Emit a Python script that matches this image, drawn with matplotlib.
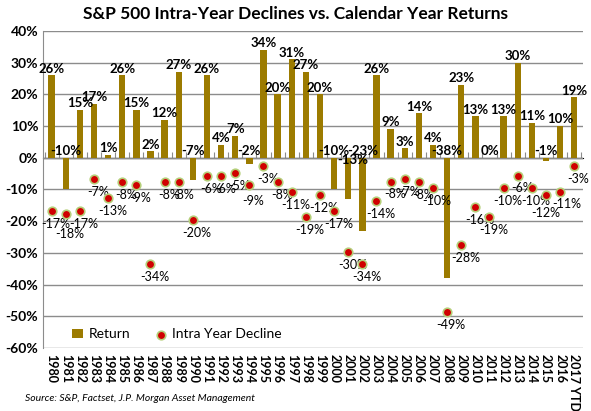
import numpy as np
import matplotlib.pyplot as plt
from matplotlib.ticker import FuncFormatter

plt.rcParams['font.family'] = ['Lato', 'DejaVu Sans']

years = [str(y) for y in range(1980, 2017)] + ['2017 YTD']
returns = [26, -10, 15, 17, 1, 26, 15, 2, 12, 27, -7, 26, 4, 7, -2, 34, 20, 31, 27, 20,
           -10, -13, -23, 26, 9, 3, 14, 4, -38, 23, 13, 0, 13, 30, 11, -1, 10, 19]
declines = [-16.8, -17.8, -16.8, -6.6, -12.7, -7.7, -8.6, -33.5, -7.7, -7.7, -19.7, -5.7,
            -5.7, -4.7, -8.6, -2.6, -7.6, -10.8, -18.6, -11.7, -16.8, -29.7, -33.5, -13.7,
            -7.5, -6.7, -7.7, -9.6, -48.7, -27.6, -15.6, -18.7, -9.6, -5.6, -9.6, -11.7,
            -10.8, -2.6]

bar_color = '#9C7B00'
dot_color = '#D00000'
dot_edge = '#B5CF7A'

# a few hand nudges for crowded labels, like in the original
ret_nudge = {'2001': (3, -6)}
dec_nudge = {'1981': (3, -10), '1994': (3, -7), '2015': (0, -9), '2016': (5, -4)}

fig = plt.figure(figsize=(5.91, 4.11), dpi=100)
ax = fig.add_axes([0.073, 0.153, 0.913, 0.772])
x = np.arange(len(years))

bars = ax.bar(x, returns, width=0.45, color=bar_color, label='Return', zorder=3)
dots = ax.scatter(x, declines, s=38, color=dot_color, edgecolor=dot_edge, linewidth=1.2,
                  label='Intra Year Decline', zorder=4)

for xi, yr, r in zip(x, years, returns):
    ypos = r if r > 0 else 0
    ax.annotate('%d%%' % r, (xi, ypos), xytext=ret_nudge.get(yr, (0, 0.5)),
                textcoords='offset points', ha='center', va='bottom',
                fontsize=9.5, fontweight='bold')
for xi, yr, d in zip(x, years, declines):
    ax.annotate('%d%%' % round(d), (xi, d), xytext=dec_nudge.get(yr, (3, -5)),
                textcoords='offset points', ha='center', va='top', fontsize=9)

ax.set_xlim(-0.6, len(years) - 0.4)
ax.set_ylim(-60, 40)
ax.set_yticks(range(-60, 41, 10))
ax.yaxis.set_major_formatter(FuncFormatter(lambda v, p: '%d%%' % v))
ax.grid(axis='y', color='#8C8C8C', linewidth=1, zorder=0)
ax.set_axisbelow(True)
ax.set_xticks(x)
ax.set_xticklabels(years, rotation=270, fontweight='bold', fontsize=9)
ax.tick_params(axis='x', length=0, pad=4)
ax.tick_params(axis='y', length=0, labelsize=10)
for lab in ax.get_yticklabels():
    lab.set_fontweight('bold')
for s in ['top', 'right', 'bottom']:
    ax.spines[s].set_visible(False)
ax.spines['left'].set_color('#8C8C8C')

# zero line with category tick marks
ax.axhline(0, color='#8C8C8C', linewidth=1, zorder=2)
sec = ax.secondary_xaxis(0.6)
sec.set_xticks(np.arange(-0.5, len(years), 1.0))
sec.set_xticklabels([])
sec.tick_params(length=4, color='#8C8C8C', direction='out')
sec.spines['bottom'].set_visible(False)

ax.legend([bars, dots], ['Return', 'Intra Year Decline'], loc='lower left',
          bbox_to_anchor=(0.03, -0.015), ncol=2, frameon=False, fontsize=10,
          handlelength=0.8, handletextpad=0.4, columnspacing=1.8)

fig.suptitle('S&P 500 Intra-Year Declines vs. Calendar Year Returns', x=0.5, y=0.985,
             fontsize=12.5, fontweight='bold')
fig.text(0.042, 0.025, 'Source: S&P, Factset, J.P. Morgan Asset Management',
         fontsize=7.5, style='italic')

fig.savefig('out.png', dpi=100)
